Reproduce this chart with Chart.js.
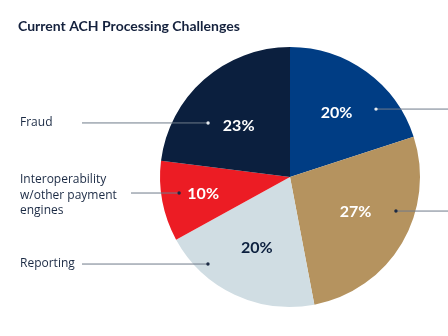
<!DOCTYPE html>
<html>
<head>
<meta charset="utf-8">
<script src="https://cdn.jsdelivr.net/npm/chart.js@4.4.1/dist/chart.umd.min.js"></script>
<style>
  html, body { margin: 0; padding: 0; background: #ffffff; }
  #wrap { width: 448px; height: 336px; position: relative; }
</style>
</head>
<body>
<div id="wrap"><canvas id="c" width="448" height="336"></canvas></div>
<script>
// ---- data ----
const title = "Current ACH Processing Challenges";
const categories = ["", "", "Reporting", "Interoperability\nw/other payment\nengines", "Fraud"];
const shares = [20, 27, 20, 10, 23];
const sliceColors = ["#003d84", "#b5935f", "#d0dde3", "#ec1c24", "#0b1f3e"];
const valueTextColors = ["#ffffff", "#ffffff", "#0b1f3e", "#ffffff", "#ffffff"];

// label placement styling (radius fraction, angle offset in radians)
const valueRadius = [0.61, 0.57, 0.6, 0.68, 0.56];
const valueAngleOff = [0, -0.05, 0, 0, -0.06];
const dotRadius = [0.843, 0.856, 0.92, 0.862, 0.755];
const dotAngleOff = [0.274, -0.223, 0.316, 0.045, -0.265];

const textColor = "#1b2a44";
const lineColor = "#6f7b8a";

const annotate = {
  id: "annotate",
  afterDraw(chart) {
    const ctx = chart.ctx;
    const meta = chart.getDatasetMeta(0);
    ctx.save();
    // title
    ctx.fillStyle = "#14213d";
    ctx.font = "bold 14px Lato, 'Open Sans', sans-serif";
    ctx.textBaseline = "alphabetic";
    ctx.textAlign = "left";
    ctx.fillText(title, 18, 31);

    meta.data.forEach((arc, i) => {
      const p = arc.getProps(["x", "y", "startAngle", "endAngle", "outerRadius"], true);
      const mid = (p.startAngle + p.endAngle) / 2;
      const R = p.outerRadius;

      // leader line + dot
      const da = mid + dotAngleOff[i];
      const dx = p.x + Math.cos(da) * R * dotRadius[i];
      const dy = p.y + Math.sin(da) * R * dotRadius[i];
      const leftSide = Math.cos(mid) < 0;
      ctx.strokeStyle = lineColor;
      ctx.lineWidth = 1;
      ctx.beginPath();
      if (leftSide) {
        const lines = categories[i].split("\n");
        const startX = lines.length > 1 ? 131 : 82;
        ctx.moveTo(startX, dy);
        ctx.lineTo(dx, dy);
        ctx.stroke();
        ctx.fillStyle = textColor;
        ctx.font = "12px 'Open Sans', sans-serif";
        ctx.textAlign = "left";
        ctx.textBaseline = "middle";
        const lh = 15.5;
        const top = lines.length > 1 ? dy - 13 : dy;
        lines.forEach((t, k) => ctx.fillText(t, 20, top + k * lh));
      } else {
        ctx.moveTo(dx, dy);
        ctx.lineTo(chart.width, dy);
        ctx.stroke();
      }
      ctx.fillStyle = (i === 0 || i === 4) ? "#e6ebf0" : "#1b2a44";
      ctx.beginPath();
      ctx.arc(dx, dy, 1.7, 0, Math.PI * 2);
      ctx.fill();

      // value label
      const va = mid + valueAngleOff[i];
      const lx = p.x + Math.cos(va) * R * valueRadius[i];
      const ly = p.y + Math.sin(va) * R * valueRadius[i];
      ctx.fillStyle = valueTextColors[i];
      ctx.font = "bold 16px Lato, 'Open Sans', sans-serif";
      ctx.textAlign = "center";
      ctx.textBaseline = "middle";
      ctx.fillText(shares[i] + "%", lx, ly);
    });
    ctx.restore();
  }
};

new Chart(document.getElementById("c"), {
  type: "pie",
  data: {
    labels: categories,
    datasets: [{
      data: shares,
      backgroundColor: sliceColors,
      borderWidth: 0
    }]
  },
  options: {
    responsive: false,
    animation: false,
    layout: { padding: { left: 160, right: 28, top: 47, bottom: 29 } },
    plugins: {
      legend: { display: false },
      tooltip: { enabled: false },
      title: { display: false }
    }
  },
  plugins: [annotate]
});
</script>
</body>
</html>
